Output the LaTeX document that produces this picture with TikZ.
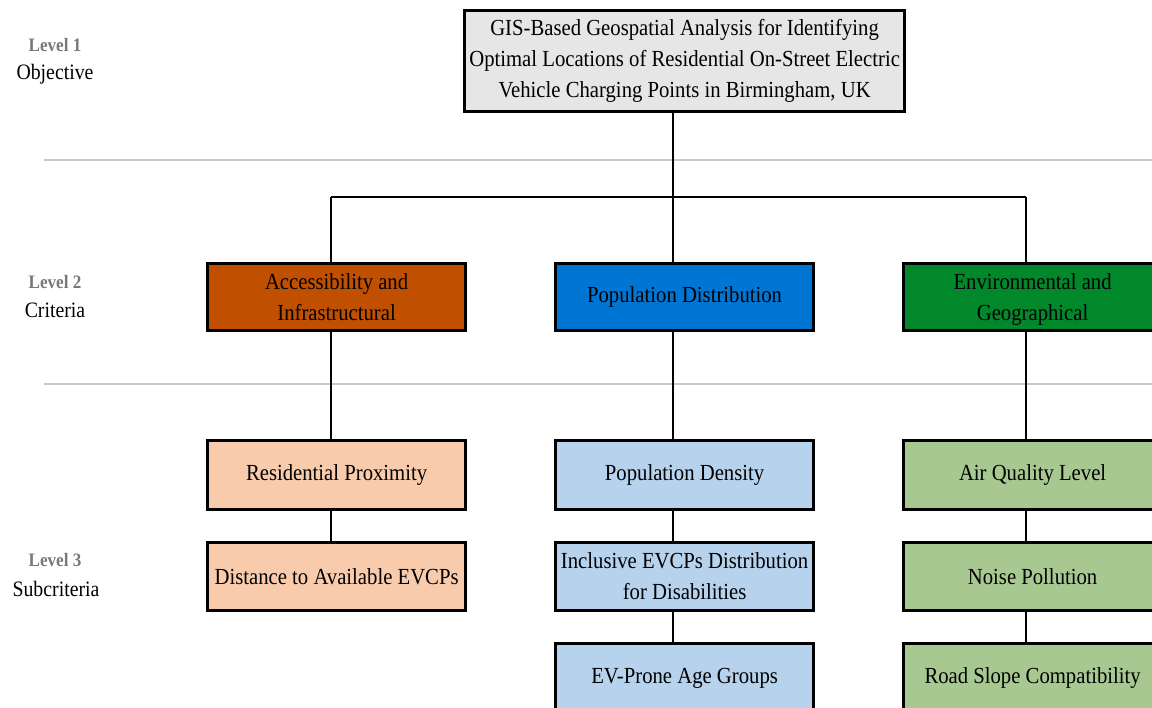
\documentclass[tikz,border=0pt]{standalone}
\usepackage{fontspec}
\setmainfont{Liberation Serif}[FakeStretch=0.9]
\definecolor{topgray}{HTML}{E7E6E6}
\definecolor{accOrange}{RGB}{192,80,0}
\definecolor{popBlue}{RGB}{0,118,212}
\definecolor{envGreen}{RGB}{0,136,42}
\definecolor{peach}{HTML}{F8CBAD}
\definecolor{lightBlue}{RGB}{182,210,236}
\definecolor{lightGreen}{RGB}{168,200,146}
\definecolor{sepgray}{RGB}{200,200,200}
\definecolor{lvlgray}{RGB}{120,120,120}
\begin{document}
\begin{tikzpicture}[x=1pt,y=-1pt,
  box/.style={draw=black, line width=3.2pt, minimum width=258pt, align=center,
    inner sep=0pt, anchor=north west, font=\fontsize{23}{31}\selectfont},
  conn/.style={line width=1.8pt, draw=black},
  sep/.style={draw=sepgray, line width=1.8pt},
  lvl/.style={font=\fontsize{19}{22}\selectfont\bfseries, text=lvlgray},
  lname/.style={font=\fontsize{22}{26}\selectfont}]
\useasboundingbox (0,0) rectangle (1152,708);
\clip (0,0) rectangle (1152,708);
% separators
\coordinate (s1a) at (44,160); \coordinate (s1b) at (1152,160);
\coordinate (s2a) at (44,384); \coordinate (s2b) at (1152,384);
\draw[sep] (s1a) -- (s1b);
\draw[sep] (s2a) -- (s2b);
% level labels
\node[lvl] (l1) at (55,45) {Level 1};
\node[lname] (o1) at (55,74) {Objective};
\node[lvl] (l2) at (55,282) {Level 2};
\node[lname] (o2) at (55,310) {Criteria};
\node[lvl] (l3) at (55,560) {Level 3};
\node[lname] (o3) at (56,589) {Subcriteria};
% level 1
\node[box, fill=topgray, minimum width=440pt, minimum height=101pt] (top) at (463,9)
  {GIS-Based Geospatial Analysis for Identifying\\Optimal Locations of Residential On-Street Electric\\Vehicle Charging Points in Birmingham, UK};
% level 2
\node[box, fill=accOrange, minimum height=67pt] (a1) at (206,262) {Accessibility and\\Infrastructural};
\node[box, fill=popBlue, minimum height=67pt] (p1) at (554,262) {Population Distribution};
\node[box, fill=envGreen, minimum height=67pt] (e1) at (902,262) {Environmental and\\\raisebox{0pt}[\height][0pt]{Geographical}};
% level 3
\node[box, fill=peach, minimum height=69pt] (a2) at (206,439) {Residential Proximity};
\node[box, fill=peach, minimum height=68pt] (a3) at (206,541) {Distance to Available EVCPs};
\node[box, fill=lightBlue, minimum height=69pt] (p2) at (554,439) {Population Density};
\node[box, fill=lightBlue, minimum height=68pt] (p3) at (554,541) {Inclusive EVCPs Distribution\\for Disabilities};
\node[box, fill=lightBlue, minimum height=69pt] (p4) at (554,642) {EV-Prone Age Groups};
\node[box, fill=lightGreen, minimum height=69pt] (e2) at (902,439) {Air Quality Level};
\node[box, fill=lightGreen, minimum height=68pt] (e3) at (902,541) {Noise Pollution};
\node[box, fill=lightGreen, minimum height=69pt] (e4) at (902,642) {Road Slope Compatibility};
% connectors
\coordinate (busL) at (331,197);
\coordinate (busR) at (1026,197);
\coordinate (busM) at (673,197);
\draw[conn] (busL) -- (busR);
\draw[conn] (top.south -| busM) -- (busM);
\draw[conn] (busL) -- (a1.north -| busL);
\draw[conn] (busM) -- (p1.north -| busM);
\draw[conn] (busR) -- (e1.north -| busR);
\draw[conn] (a1.south -| busL) -- (a2.north -| busL);
\draw[conn] (a2.south -| busL) -- (a3.north -| busL);
\draw[conn] (p1.south -| busM) -- (p2.north -| busM);
\draw[conn] (p2.south -| busM) -- (p3.north -| busM);
\draw[conn] (p3.south -| busM) -- (p4.north -| busM);
\draw[conn] (e1.south -| busR) -- (e2.north -| busR);
\draw[conn] (e2.south -| busR) -- (e3.north -| busR);
\draw[conn] (e3.south -| busR) -- (e4.north -| busR);
\end{tikzpicture}
\end{document}
